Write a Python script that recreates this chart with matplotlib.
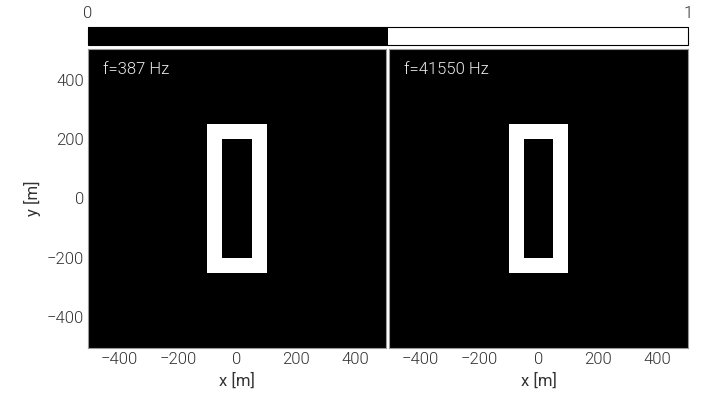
import numpy as np
import matplotlib.pyplot as plt
from matplotlib.colors import ListedColormap

plt.rcParams['font.family'] = ['Roboto', 'DejaVu Sans']
plt.rcParams['font.weight'] = 300
plt.rcParams['font.size'] = 12

freqs = [387, 41550]
outer_x = [-100, 100]
outer_y = [-250, 250]
inner_x = [-50, 50]
inner_y = [-200, 200]
extent = [-505, 505, -505, 505]
xticks = [-400, -200, 0, 200, 400]
yticks = [-400, -200, 0, 200, 400]

step = 5
xc = np.arange(extent[0] + step / 2, extent[1], step)
yc = np.arange(extent[2] + step / 2, extent[3], step)
X, Y = np.meshgrid(xc, yc)
outer = (X > outer_x[0]) & (X < outer_x[1]) & (Y > outer_y[0]) & (Y < outer_y[1])
inner = (X > inner_x[0]) & (X < inner_x[1]) & (Y > inner_y[0]) & (Y < inner_y[1])
field = (outer & ~inner).astype(float)

cmap = ListedColormap(['black', 'white'])
tc = '#333333'

fig = plt.figure(figsize=(7.06, 3.95), dpi=100)
ax1 = fig.add_axes([88 / 706, 47 / 395, 298 / 706, 299 / 395])
ax2 = fig.add_axes([389 / 706, 47 / 395, 299 / 706, 299 / 395])
cax = fig.add_axes([88 / 706, 350 / 395, 600 / 706, 18 / 395])

for ax, f in zip([ax1, ax2], freqs):
    im = ax.imshow(field, cmap=cmap, vmin=0, vmax=1, extent=extent,
                   origin='lower', aspect='auto', interpolation='nearest')
    ax.text(0.05, 0.93, f'f={f} Hz', transform=ax.transAxes, color='#eeeeee',
            ha='left', va='center')
    ax.set_xticks(xticks)
    ax.set_yticks(yticks)
    ax.tick_params(length=0, colors=tc, pad=3)
    ax.set_xlabel('x [m]', color=tc, labelpad=4)
    for s in ax.spines.values():
        s.set_color('#999999')
        s.set_linewidth(0.8)

ax1.set_ylabel('y [m]', color=tc, labelpad=4)
ax2.set_yticks([])

cb = fig.colorbar(im, cax=cax, orientation='horizontal', ticks=[0, 1])
cax.xaxis.set_ticks_position('top')
cax.tick_params(length=0, colors=tc, pad=4)
cb.outline.set_linewidth(0.8)

fig.savefig('out.png', dpi=100)
